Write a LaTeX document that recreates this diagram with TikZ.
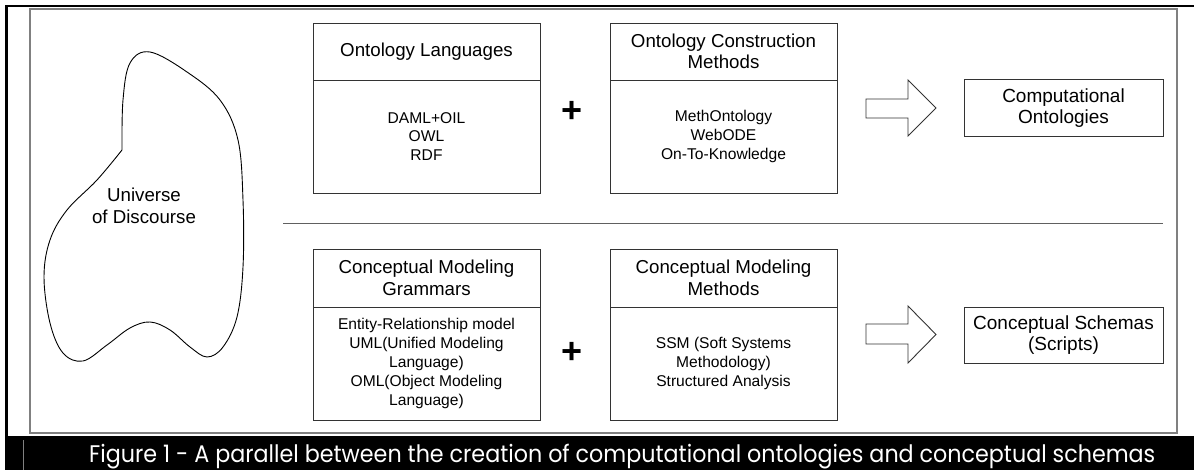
\documentclass[tikz,border=0pt]{standalone}
\usepackage{fontspec}
\setmainfont{Liberation Sans}
\newfontfamily\capfont{Poppins}
\usepackage{graphicx}
\definecolor{boxc}{HTML}{333333}
\definecolor{framec}{HTML}{808080}
\definecolor{sepc}{HTML}{606060}
\begin{document}
\begin{tikzpicture}[x=1pt,y=-1pt,
  ttl/.style={draw=boxc, line width=0.9pt, minimum width=227pt, minimum height=57pt, inner sep=0pt, align=center, font=\fontsize{18.7}{21.5}\selectfont},
  bdy/.style={draw=boxc, line width=0.9pt, minimum width=227pt, minimum height=113pt, inner sep=0pt, align=center, font=\fontsize{15.6}{18.8}\selectfont},
  res/.style={draw=boxc, line width=0.9pt, minimum width=199pt, minimum height=57pt, inner sep=0pt, align=center, font=\fontsize{19}{21.5}\selectfont},
  plus/.style={inner sep=0pt, font=\fontsize{36}{36}\selectfont\bfseries},
  bigarrow/.style={draw=boxc, line width=0.9pt, line join=miter}
]
\useasboundingbox (0,0) rectangle (1194,470);
% outer black frame and caption bar
\fill[black] (5,5) rectangle (1194,7.5);
\fill[black] (5,5) rectangle (7.5,436);
\fill[black] (5,436) rectangle (1194,470);
\draw[framec, line width=0.8pt] (23,440) -- (23,470);
% inner frame
\draw[framec, line width=1.3pt] (30,9) rectangle (1177,433);
% separator
\draw[sepc, line width=1pt] (283,224) -- (1163,224);
% universe of discourse blob
\draw[black, line width=0.9pt] plot[smooth, tension=0.6] coordinates {(122,150) (123,100) (130,63) (150,52) (187,72) (220,100) (238,140) (243,200) (243,267) (237,317) (223,347) (207,357) (190,347) (170,330) (150,322) (130,328) (107,345) (83,361) (63,353) (50,323) (44,277) (50,240) (67,210) (97,180) (122,150)};
\node[align=center, inner sep=0pt, font=\fontsize{18.7}{21.5}\selectfont] (ud) at (144,206) {Universe\\of Discourse};
% top row
\node[ttl] (olT) at (426.5,51.5) {Ontology Languages};
\node[bdy] (olB) at (426.5,136.5) {DAML+OIL\\OWL\\RDF};
\node[plus] (p1) at (572,112) {+};
\node[ttl] (ocT) at (723.5,51.5) {Ontology Construction\\Methods};
\node[bdy] (ocB) at (723.5,136.5) {MethOntology\\WebODE\\On-To-Knowledge};
\draw[bigarrow] (866,99) -- (908,99) -- (908,80) -- (936,108) -- (908,136) -- (908,118) -- (866,118) -- cycle;
\node[res] (co) at (1063.5,108) {Computational\\Ontologies};
% bottom row
\node[ttl, minimum height=58pt] (cgT) at (426.5,278) {Conceptual Modeling\\Grammars};
\node[bdy] (cgB) at (426.5,363.5) {Entity-Relationship model\\UML(Unified Modeling\\Language)\\OML(Object Modeling\\Language)};
\node[plus] (p2) at (572,353) {+};
\node[ttl, minimum height=58pt] (cmT) at (723.5,278) {Conceptual Modeling\\Methods};
\node[bdy] (cmB) at (723.5,363.5) {SSM (Soft Systems\\Methodology)\\Structured Analysis};
\draw[bigarrow] (866,324) -- (908,324) -- (908,306) -- (936,334.5) -- (908,363) -- (908,344) -- (866,344) -- cycle;
\node[res, minimum height=56pt] (cs) at (1063.5,335) {Conceptual Schemas\\(Scripts)};
% caption
\node[anchor=base west, inner sep=0pt, text=white] (cap) at (89,462) {\scalebox{1}[1.08]{\resizebox{1066pt}{!}{\capfont Figure 1 - A parallel between the creation of computational ontologies and conceptual schemas}}};
\end{tikzpicture}
\end{document}
